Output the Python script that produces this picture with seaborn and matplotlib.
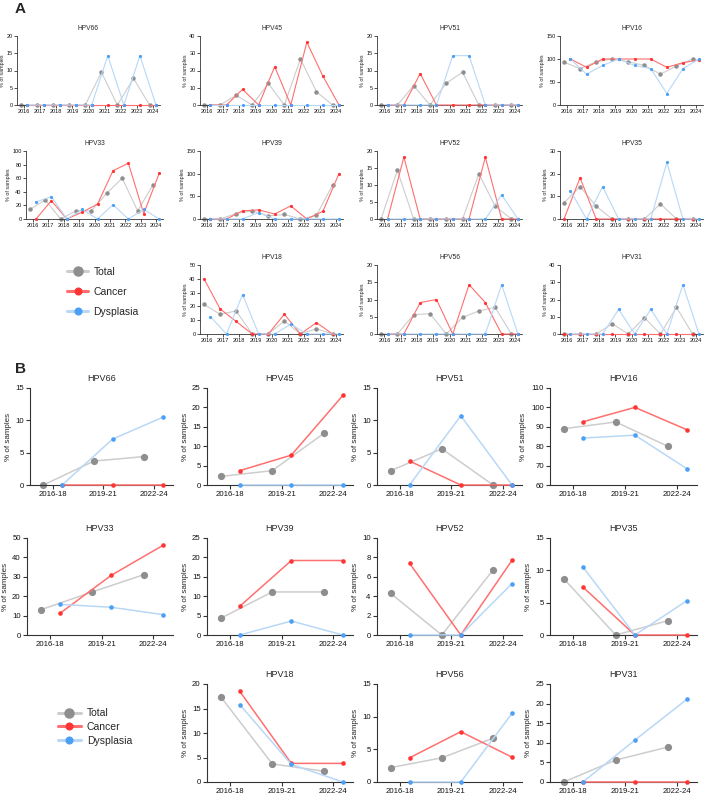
import numpy as np
import matplotlib
matplotlib.use("Agg")
import matplotlib.pyplot as plt
from matplotlib.lines import Line2D
import seaborn as sns

sns.set_theme(style="ticks")
plt.rcParams['font.family'] = ['Liberation Sans', 'DejaVu Sans']

# ---------------- data ----------------
years = [2016, 2017, 2018, 2019, 2020, 2021, 2022, 2023, 2024]
periods = ["2016-18", "2019-21", "2022-24"]
series_names = ["Total", "Cancer", "Dysplasia"]

layout_A = [["HPV66", "HPV45", "HPV51", "HPV16"],
            ["HPV33", "HPV39", "HPV52", "HPV35"],
            [None, "HPV18", "HPV56", "HPV31"]]

A_total = {
    "HPV66": [0, 0, 0, 0, 0, 9.5, 0, 7.7, 0],
    "HPV45": [0, 0, 5.6, 0, 12.5, 0, 26.7, 7.7, 0],
    "HPV51": [0, 0, 5.6, 0, 6.3, 9.5, 0, 0, 0],
    "HPV16": [93, 79, 94, 100, 94, 86, 67, 85, 100],
    "HPV33": [14, 28, 0, 12, 12, 38, 60, 12, 50],
    "HPV39": [0, 0, 12, 18, 7, 10, 0, 8, 75],
    "HPV52": [0, 14.3, 0, 0, 0, 0, 13.3, 3.8, 0],
    "HPV35": [7.1, 14.3, 5.6, 0, 0, 0, 6.7, 0, 0],
    "HPV18": [21.4, 14.3, 16.7, 0, 0, 9.5, 0, 3.8, 0],
    "HPV56": [0, 0, 5.6, 5.9, 0, 4.8, 6.7, 7.7, 0],
    "HPV31": [0, 0, 0, 5.9, 0, 9.5, 0, 15.4, 0],
}
A_cancer = {
    "HPV66": [0, 0, 0, 0, 0, 0, 0, 0, 0],
    "HPV45": [0, 0, 9.1, 0, 22.2, 0, 36.4, 16.7, 0],
    "HPV51": [0, 0, 9.1, 0, 0, 0, 0, 0, 0],
    "HPV16": [100, 82, 100, 100, 100, 100, 82, 92, 98],
    "HPV33": [0, 27, 0, 10, 22, 71, 82, 8, 67],
    "HPV39": [0, 0, 18, 20, 11, 29, 0, 17, 100],
    "HPV52": [0, 18.2, 0, 0, 0, 0, 18.2, 0, 0],
    "HPV35": [0, 18.2, 0, 0, 0, 0, 0, 0, 0],
    "HPV18": [40, 18.2, 9.1, 0, 0, 14.3, 0, 8.3, 0],
    "HPV56": [0, 0, 9.1, 10, 0, 14.3, 9.1, 0, 0],
    "HPV31": [0, 0, 0, 0, 0, 0, 0, 0, 0],
}
A_dysplasia = {
    "HPV66": [0, 0, 0, 0, 0, 14.3, 0, 14.3, 0],
    "HPV45": [0, 0, 0, 0, 0, 0, 0, 0, 0],
    "HPV51": [0, 0, 0, 0, 14.3, 14.3, 0, 0, 0],
    "HPV16": [100, 67, 86, 100, 86, 79, 25, 79, 100],
    "HPV33": [25, 33, 0, 14, 0, 21, 0, 14, 0],
    "HPV39": [0, 0, 0, 14, 0, 0, 0, 0, 0],
    "HPV52": [0, 0, 0, 0, 0, 0, 0, 7.1, 0],
    "HPV35": [12.5, 0, 14.3, 0, 0, 0, 25, 0, 0],
    "HPV18": [12.5, 0, 28.6, 0, 0, 7.1, 0, 0, 0],
    "HPV56": [0, 0, 0, 0, 0, 0, 0, 14.3, 0],
    "HPV31": [0, 0, 0, 14.3, 0, 14.3, 0, 28.6, 0],
}
# y-axis scale (min, max, step) for panel A
A_yscale = {"HPV66": (0, 20, 5), "HPV45": (0, 40, 10), "HPV51": (0, 20, 5),
            "HPV16": (0, 150, 50), "HPV33": (0, 100, 20), "HPV39": (0, 150, 50),
            "HPV52": (0, 20, 5), "HPV35": (0, 30, 10), "HPV18": (0, 50, 10),
            "HPV56": (0, 20, 5), "HPV31": (0, 40, 10)}
# cancer column side in panel A (-1 left with Total, +1 right with Dysplasia)
A_cancer_side = {"HPV35": -1, "HPV18": -1, "HPV31": -1}

B_total = {
    "HPV66": [0, 3.7, 4.4],
    "HPV45": [2.2, 3.7, 13.3],
    "HPV51": [2.2, 5.6, 0],
    "HPV16": [89, 92.5, 80],
    "HPV33": [13, 22.2, 31.1],
    "HPV39": [4.3, 11.1, 11.1],
    "HPV52": [4.3, 0, 6.7],
    "HPV35": [8.7, 0, 2.2],
    "HPV18": [17.4, 3.7, 2.2],
    "HPV56": [2.2, 3.7, 6.7],
    "HPV31": [0, 5.6, 8.9],
}
B_cancer = {
    "HPV66": [0, 0, 0],
    "HPV45": [3.7, 7.7, 23.1],
    "HPV51": [3.7, 0, 0],
    "HPV16": [92.6, 100, 88.5],
    "HPV33": [11.1, 30.8, 46.2],
    "HPV39": [7.4, 19.2, 19.2],
    "HPV52": [7.4, 0, 7.7],
    "HPV35": [7.4, 0, 0],
    "HPV18": [18.5, 3.8, 3.8],
    "HPV56": [3.7, 7.7, 3.8],
    "HPV31": [0, 0, 0],
}
B_dysplasia = {
    "HPV66": [0, 7.1, 10.5],
    "HPV45": [0, 0, 0],
    "HPV51": [0, 10.7, 0],
    "HPV16": [84.2, 85.7, 68.4],
    "HPV33": [15.8, 14.3, 10.5],
    "HPV39": [0, 3.6, 0],
    "HPV52": [0, 0, 5.3],
    "HPV35": [10.5, 0, 5.3],
    "HPV18": [15.8, 3.6, 0],
    "HPV56": [0, 0, 10.5],
    "HPV31": [0, 10.7, 21.1],
}
B_yscale = {"HPV66": (0, 15, 5), "HPV45": (0, 25, 5), "HPV51": (0, 15, 5),
            "HPV16": (60, 110, 10), "HPV33": (0, 50, 10), "HPV39": (0, 25, 5),
            "HPV52": (0, 10, 2), "HPV35": (0, 15, 5), "HPV18": (0, 20, 5),
            "HPV56": (0, 15, 5), "HPV31": (0, 25, 5)}

# ---------------- style ----------------
TOT_LINE, TOT_MK = "#cdcdcd", "#8e8e8e"
CAN_LINE, CAN_MK = "#ff6f6f", "#ff3434"
DYS_LINE, DYS_MK = "#b8d8f6", "#4b9ff5"
AXC = "#333333"

W, H = 707, 795
fig = plt.figure(figsize=(W / 100, H / 100), dpi=100)


def add_ax(x0, x1, y0, y1):
    return fig.add_axes([x0 / W, 1 - y1 / H, (x1 - x0) / W, (y1 - y0) / H])


def style_ax(ax, fs_tick, lw, tl, pad):
    sns.despine(ax=ax)
    for s in ("left", "bottom"):
        ax.spines[s].set_color(AXC)
        ax.spines[s].set_linewidth(lw)
    ax.tick_params(axis="both", labelsize=fs_tick, width=lw, length=tl,
                   color=AXC, pad=pad, labelcolor="#111111")


def draw(ax, x, tot, can, dys, off, cside, lw, ms_t, ms_o):
    x = np.asarray(x, dtype=float)
    sns.lineplot(x=x - off, y=tot, ax=ax, color=TOT_LINE, linewidth=lw,
                 marker="o", markersize=ms_t, markerfacecolor=TOT_MK,
                 markeredgecolor=TOT_MK, markeredgewidth=0, zorder=2, clip_on=False)
    sns.lineplot(x=x + cside * off, y=can, ax=ax, color=CAN_LINE, linewidth=lw,
                 marker="o", markersize=ms_o, markerfacecolor=CAN_MK,
                 markeredgecolor=CAN_MK, markeredgewidth=0, zorder=3, clip_on=False)
    sns.lineplot(x=x + off, y=dys, ax=ax, color=DYS_LINE, linewidth=lw,
                 marker="o", markersize=ms_o, markerfacecolor=DYS_MK,
                 markeredgecolor=DYS_MK, markeredgewidth=0, zorder=4, clip_on=False)


# ---------------- Panel A ----------------
cols_A = [(17, 160), (200, 343), (377, 522), (560, 703)]
rows_A = [(36, 105), (151, 219), (265, 334)]
for r, row in enumerate(layout_A):
    for c, gene in enumerate(row):
        if gene is None:
            continue
        x0, x1 = cols_A[c]
        if gene == "HPV33":
            x0, x1 = 26, 163
        ax = add_ax(x0, x1, rows_A[r][0], rows_A[r][1])
        draw(ax, years, A_total[gene], A_cancer[gene], A_dysplasia[gene],
             0.2, A_cancer_side.get(gene, 1), 0.8, 3.2, 2.3)
        lo, hi, st = A_yscale[gene]
        ax.set_ylim(lo, hi)
        ax.set_yticks(np.arange(lo, hi + st / 2, st))
        ax.set_xlim(2015.55, 2024.45)
        ax.set_xticks(years, [str(y) for y in years])
        ax.set_title(gene, fontsize=4.8, pad=4)
        ax.set_ylabel("% of samples", fontsize=3.9, labelpad=1)
        ax.set_xlabel("")
        style_ax(ax, 4, 0.6, 2, 1.2)

# ---------------- Panel B ----------------
cols_B = [(30, 173), (207, 353), (377, 522), (550, 697)]
rows_B = [(388, 485), (538, 635), (684, 782)]
xB = np.arange(len(periods))
for r, row in enumerate(layout_A):
    for c, gene in enumerate(row):
        if gene is None:
            continue
        x0, x1 = cols_B[c]
        if gene == "HPV33":
            x0 = 27
        ax = add_ax(x0, x1, rows_B[r][0], rows_B[r][1])
        draw(ax, xB, B_total[gene], B_cancer[gene], B_dysplasia[gene],
             0.185, 1, 1.1, 5.2, 3.3)
        lo, hi, st = B_yscale[gene]
        ax.set_ylim(lo, hi)
        ax.set_yticks(np.arange(lo, hi + st / 2, st))
        ax.set_xlim(-0.45, 2.38)
        ax.set_xticks(xB, periods)
        ax.set_title(gene, fontsize=6.5, pad=5)
        ax.set_ylabel("% of samples", fontsize=5.8, labelpad=2.5)
        ax.set_xlabel("")
        style_ax(ax, 5.6, 0.8, 3, 1.5)


# ---------------- legends ----------------
def legend_handles(lw, ms_t, ms_o):
    return [
        Line2D([], [], color=TOT_LINE, lw=lw, marker="o", ms=ms_t,
               mfc=TOT_MK, mec=TOT_MK),
        Line2D([], [], color=CAN_LINE, lw=lw, marker="o", ms=ms_o,
               mfc=CAN_MK, mec=CAN_MK),
        Line2D([], [], color=DYS_LINE, lw=lw, marker="o", ms=ms_o,
               mfc=DYS_MK, mec=DYS_MK),
    ]


fig.legend(legend_handles(2.2, 6.5, 4.8), series_names, loc="center",
           bbox_to_anchor=(103 / W, 1 - 292 / H), frameon=False, fontsize=7.5,
           handlelength=2.0, labelspacing=0.95, handletextpad=0.5)
fig.legend(legend_handles(2.2, 6.5, 4.8), series_names, loc="center",
           bbox_to_anchor=(95 / W, 1 - 727 / H), frameon=False, fontsize=7.5,
           handlelength=2.2, labelspacing=0.35, handletextpad=0.6)

# panel labels
fig.text(15 / W, 1 - 13 / H, "A", fontsize=11, fontweight="bold")
fig.text(15 / W, 1 - 373 / H, "B", fontsize=11, fontweight="bold")

fig.savefig("out.png", dpi=100)
